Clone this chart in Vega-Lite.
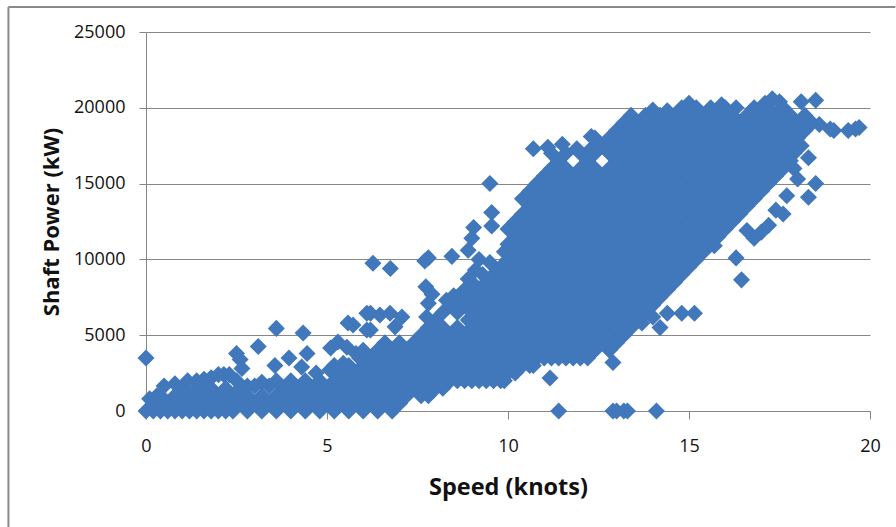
{"$schema":"https://vega.github.io/schema/vega-lite/v6.json","width":724,"height":379,"autosize":{"type":"none"},"padding":{"left":146,"top":32,"right":26,"bottom":116},"background":"white","config":{"view":{"stroke":null}},
"layer":[
{"data":{"values":[{"s":-3.8,"s2":-3.8,"p":-7650,"p2":26650},{"s":-3.8,"s2":20.7,"p":26650,"p2":26650}]},"mark":{"type":"rule","color":"#8a8a8a","strokeWidth":2},"encoding":{"x":{"field":"s","type":"quantitative","scale":{"domain":[0,20],"nice":false,"zero":false}},"x2":{"field":"s2"},"y":{"field":"p","type":"quantitative","scale":{"domain":[0,25000],"nice":false,"zero":false}},"y2":{"field":"p2"}}},
{"data":{"values":[
{"s":0,"p":3500},{"s":11.4,"p":0},{"s":12.9,"p":0},{"s":13,"p":0},{"s":13.2,"p":0},{"s":13.3,"p":0},{"s":14.1,"p":0},
{"s":3.6,"p":5450},{"s":4.34,"p":5150},{"s":3.95,"p":3500},{"s":4.45,"p":3800},{"s":3.56,"p":3000},{"s":4.3,"p":2900},{"s":5.1,"p":4150},{"s":5.3,"p":4550},{"s":5.55,"p":4200},{"s":5.58,"p":5800},{"s":5.72,"p":5670},{"s":6.1,"p":6450},{"s":6.1,"p":5350},{"s":5.08,"p":2700},{"s":5.45,"p":3150},{"s":5.8,"p":3800},{"s":3.1,"p":4250},{"s":2.5,"p":3800},{"s":2.6,"p":3400},{"s":2.65,"p":2800},{"s":6.2,"p":6450},{"s":6.46,"p":6330},{"s":6.74,"p":6450},{"s":7.07,"p":6200},{"s":6.88,"p":5550},{"s":6.2,"p":5350},{"s":6.27,"p":9750},{"s":6.75,"p":9400},{"s":7.7,"p":9900},{"s":7.8,"p":10100},{"s":8.45,"p":10200},{"s":8.9,"p":10600},{"s":9.2,"p":10000},{"s":9,"p":11400},{"s":9.05,"p":12100},{"s":9.55,"p":13100},{"s":9.55,"p":12200},{"s":9.5,"p":15000},{"s":9.5,"p":9800},{"s":7.73,"p":8200},{"s":7.8,"p":7100},{"s":7.75,"p":6200},{"s":7.9,"p":7700},{"s":8.3,"p":7300},{"s":8.5,"p":7600},{"s":8.9,"p":8700},{"s":9.1,"p":9300},{"s":11.16,"p":2180},{"s":12.9,"p":3200},
{"s":10.7,"p":17300},{"s":11.1,"p":17400},{"s":11.5,"p":17600},{"s":11.9,"p":17300},{"s":12.3,"p":17300},{"s":12.3,"p":18100},{"s":12.65,"p":17400},
{"s":14.4,"p":6450},{"s":14.8,"p":6450},{"s":15.15,"p":6450},{"s":14.2,"p":5500},{"s":13.7,"p":5800},{"s":14,"p":6200},
{"s":15.7,"p":10900},{"s":16.3,"p":10100},{"s":16.45,"p":8650},{"s":16.6,"p":11900},{"s":16.8,"p":11400},{"s":17,"p":11800},{"s":17.2,"p":12250},{"s":17.4,"p":13250},{"s":17.6,"p":13000},{"s":17.7,"p":14200},{"s":18.3,"p":14100},{"s":18.5,"p":15000},{"s":18,"p":15300},{"s":17.9,"p":16000},{"s":18.3,"p":16700},{"s":18.6,"p":18900},{"s":19,"p":18500},{"s":19.4,"p":18500},{"s":19.7,"p":18700},{"s":19.6,"p":18600},{"s":18.9,"p":18600},{"s":18.5,"p":20500},{"s":18.1,"p":20400},{"s":17.3,"p":20600},{"s":15,"p":20300},{"s":15.9,"p":20200},{"s":14,"p":19850},{"s":17.1,"p":20300},{"s":17.5,"p":20400},{"s":16.3,"p":20000},
{"s":0.8,"p":1800},{"s":1.4,"p":2000},{"s":1.8,"p":2200},{"s":2.15,"p":2400},{"s":2.5,"p":2000},{"s":2.8,"p":1650},{"s":3.2,"p":1900},{"s":4,"p":2000},{"s":8.6,"p":2000},{"s":9,"p":2000},{"s":9.4,"p":2000},{"s":9.8,"p":2000},{"s":10,"p":2500},{"s":10.6,"p":3000},{"s":10.8,"p":3500},{"s":11.2,"p":3500},{"s":11.6,"p":3500},{"s":12,"p":3500},{"s":7.8,"p":1000},{"s":8,"p":1500},
{"s":0,"p":0},{"s":0.2,"p":0},{"s":0.4,"p":0},{"s":0.6,"p":0},{"s":0.8,"p":0},{"s":1,"p":0},{"s":1.2,"p":0},{"s":1.4,"p":0},{"s":1.6,"p":0},{"s":1.8,"p":0},{"s":2,"p":0},{"s":2.2,"p":0},{"s":2.4,"p":0},{"s":2.8,"p":0},{"s":3.2,"p":0},{"s":3.6,"p":0},{"s":4,"p":0},{"s":4.4,"p":0},{"s":4.8,"p":0},{"s":5.2,"p":0},{"s":5.6,"p":0},{"s":6,"p":0},{"s":6.4,"p":0},{"s":6.8,"p":0},{"s":0.1,"p":800},{"s":0.3,"p":1000},
{"s":0.2,"p":500},{"s":0.6,"p":500},{"s":1,"p":500},{"s":1.4,"p":500},{"s":1.8,"p":500},{"s":2.2,"p":500},{"s":2.6,"p":500},{"s":3,"p":500},{"s":3.4,"p":500},{"s":3.8,"p":500},{"s":4.2,"p":500},{"s":4.6,"p":500},{"s":5,"p":500},{"s":5.4,"p":500},{"s":5.8,"p":500},{"s":6.2,"p":500},{"s":6.6,"p":500},{"s":7,"p":500},
{"s":0.4,"p":1000},{"s":0.8,"p":1000},{"s":1.2,"p":1000},{"s":1.6,"p":1000},{"s":2,"p":1000},{"s":2.4,"p":1000},{"s":2.8,"p":1000},{"s":3.2,"p":1000},{"s":3.6,"p":1000},{"s":4,"p":1000},{"s":4.4,"p":1000},{"s":4.8,"p":1000},{"s":5.2,"p":1000},{"s":5.6,"p":1000},{"s":6,"p":1000},{"s":6.4,"p":1000},{"s":6.8,"p":1000},{"s":7.2,"p":1000},{"s":7.6,"p":1000},
{"s":0.5,"p":1650},{"s":1,"p":1500},{"s":1.4,"p":1500},{"s":1.8,"p":1500},{"s":2.2,"p":1500},{"s":2.6,"p":1500},{"s":3,"p":1650},{"s":3.4,"p":1650},{"s":3.8,"p":1500},{"s":4.2,"p":1500},{"s":4.6,"p":1500},{"s":5,"p":1500},{"s":5.4,"p":1500},{"s":5.8,"p":1500},{"s":6.2,"p":1500},{"s":6.6,"p":1500},{"s":7,"p":1500},{"s":7.4,"p":1500},{"s":7.8,"p":1500},{"s":8.2,"p":1500},
{"s":1.15,"p":2000},{"s":1.6,"p":2100},{"s":2,"p":2400},{"s":2.3,"p":2400},{"s":3.6,"p":2000},{"s":4.4,"p":2000},{"s":4.8,"p":2000},{"s":5.2,"p":2000},{"s":5.6,"p":2000},{"s":6,"p":2000},{"s":6.4,"p":2000},{"s":6.8,"p":2000},{"s":7.2,"p":2000},{"s":7.6,"p":2000},{"s":8,"p":2000},{"s":8.4,"p":2000},{"s":8.8,"p":2000},{"s":9.2,"p":2000},{"s":9.6,"p":2000},{"s":9.9,"p":2000},
{"s":4.7,"p":2500},{"s":5.4,"p":2500},{"s":5.8,"p":2500},{"s":6.2,"p":2500},{"s":6.6,"p":2500},{"s":7,"p":2500},{"s":7.4,"p":2500},{"s":7.8,"p":2500},{"s":8.2,"p":2500},{"s":8.6,"p":2500},{"s":9,"p":2500},{"s":9.4,"p":2500},{"s":9.8,"p":2500},{"s":10.2,"p":2500},
{"s":5.2,"p":3000},{"s":5.6,"p":3000},{"s":6,"p":3000},{"s":6.4,"p":3000},{"s":6.8,"p":3000},{"s":7.2,"p":3000},{"s":7.6,"p":3000},{"s":8,"p":3000},{"s":8.4,"p":3000},{"s":8.8,"p":3000},{"s":9.2,"p":3000},{"s":9.6,"p":3000},{"s":10,"p":3000},{"s":10.4,"p":3000},{"s":10.7,"p":3000},
{"s":5.9,"p":3500},{"s":6.2,"p":3500},{"s":6.6,"p":3500},{"s":7,"p":3500},{"s":7.4,"p":3500},{"s":7.8,"p":3500},{"s":8.2,"p":3500},{"s":8.6,"p":3500},{"s":9,"p":3500},{"s":9.4,"p":3500},{"s":9.8,"p":3500},{"s":10.2,"p":3500},{"s":10.6,"p":3500},{"s":11,"p":3500},{"s":11.4,"p":3500},{"s":11.8,"p":3500},{"s":12.2,"p":3500},
{"s":6,"p":4000},{"s":6.4,"p":4000},{"s":6.8,"p":4000},{"s":7.2,"p":4000},{"s":7.6,"p":4000},{"s":8,"p":4000},{"s":8.4,"p":4000},{"s":8.8,"p":4000},{"s":9.2,"p":4000},{"s":9.6,"p":4000},{"s":10,"p":4000},{"s":10.4,"p":4000},{"s":10.8,"p":4000},{"s":11.2,"p":4000},{"s":11.6,"p":4000},{"s":12,"p":4000},{"s":12.4,"p":4000},{"s":12.8,"p":4000},
{"s":6.6,"p":4500},{"s":7,"p":4500},{"s":7.4,"p":4500},{"s":7.8,"p":4500},{"s":8.2,"p":4500},{"s":8.6,"p":4500},{"s":9,"p":4500},{"s":9.4,"p":4500},{"s":9.8,"p":4500},{"s":10.2,"p":4500},{"s":10.6,"p":4500},{"s":11,"p":4500},{"s":11.4,"p":4500},{"s":11.8,"p":4500},{"s":12.2,"p":4500},{"s":12.6,"p":4500},{"s":13,"p":4500},
{"s":7.6,"p":5000},{"s":8,"p":5000},{"s":8.4,"p":5000},{"s":8.8,"p":5000},{"s":9.2,"p":5000},{"s":9.6,"p":5000},{"s":10,"p":5000},{"s":10.4,"p":5000},{"s":10.8,"p":5000},{"s":11.2,"p":5000},{"s":11.6,"p":5000},{"s":12,"p":5000},{"s":12.4,"p":5000},{"s":12.8,"p":5000},{"s":13.2,"p":5000},
{"s":7.8,"p":5500},{"s":8.2,"p":5500},{"s":8.6,"p":5500},{"s":9,"p":5500},{"s":9.4,"p":5500},{"s":9.8,"p":5500},{"s":10.2,"p":5500},{"s":10.6,"p":5500},{"s":11,"p":5500},{"s":11.4,"p":5500},{"s":11.8,"p":5500},{"s":12.2,"p":5500},{"s":12.6,"p":5500},{"s":13,"p":5500},{"s":13.4,"p":5500},
{"s":8,"p":6000},{"s":8.9,"p":6000},{"s":9.2,"p":6000},{"s":9.6,"p":6000},{"s":10,"p":6000},{"s":10.4,"p":6000},{"s":10.8,"p":6000},{"s":11.2,"p":6000},{"s":11.6,"p":6000},{"s":12,"p":6000},{"s":12.4,"p":6000},{"s":12.8,"p":6000},{"s":13.2,"p":6000},{"s":13.6,"p":6000},
{"s":8.2,"p":6500},{"s":8.6,"p":6500},{"s":9,"p":6500},{"s":9.4,"p":6500},{"s":9.8,"p":6500},{"s":10.2,"p":6500},{"s":10.6,"p":6500},{"s":11,"p":6500},{"s":11.4,"p":6500},{"s":11.8,"p":6500},{"s":12.2,"p":6500},{"s":12.6,"p":6500},{"s":13,"p":6500},{"s":13.4,"p":6500},{"s":13.8,"p":6500},
{"s":8.4,"p":7000},{"s":8.8,"p":7000},{"s":9.2,"p":7000},{"s":9.6,"p":7000},{"s":10,"p":7000},{"s":10.4,"p":7000},{"s":10.8,"p":7000},{"s":11.2,"p":7000},{"s":11.6,"p":7000},{"s":12,"p":7000},{"s":12.4,"p":7000},{"s":12.8,"p":7000},{"s":13.2,"p":7000},{"s":13.6,"p":7000},{"s":14,"p":7000},
{"s":8.6,"p":7500},{"s":9,"p":7500},{"s":9.4,"p":7500},{"s":9.8,"p":7500},{"s":10.2,"p":7500},{"s":10.6,"p":7500},{"s":11,"p":7500},{"s":11.4,"p":7500},{"s":11.8,"p":7500},{"s":12.2,"p":7500},{"s":12.6,"p":7500},{"s":13,"p":7500},{"s":13.4,"p":7500},{"s":13.8,"p":7500},{"s":14.2,"p":7500},
{"s":8.8,"p":8000},{"s":9.2,"p":8000},{"s":9.6,"p":8000},{"s":10,"p":8000},{"s":10.4,"p":8000},{"s":10.8,"p":8000},{"s":11.2,"p":8000},{"s":11.6,"p":8000},{"s":12,"p":8000},{"s":12.4,"p":8000},{"s":12.8,"p":8000},{"s":13.2,"p":8000},{"s":13.6,"p":8000},{"s":14,"p":8000},{"s":14.4,"p":8000},
{"s":9,"p":8500},{"s":9.4,"p":8500},{"s":9.8,"p":8500},{"s":10.2,"p":8500},{"s":10.6,"p":8500},{"s":11,"p":8500},{"s":11.4,"p":8500},{"s":11.8,"p":8500},{"s":12.2,"p":8500},{"s":12.6,"p":8500},{"s":13,"p":8500},{"s":13.4,"p":8500},{"s":13.8,"p":8500},{"s":14.2,"p":8500},{"s":14.6,"p":8500},
{"s":9.3,"p":9000},{"s":9.6,"p":9000},{"s":10,"p":9000},{"s":10.4,"p":9000},{"s":10.8,"p":9000},{"s":11.2,"p":9000},{"s":11.6,"p":9000},{"s":12,"p":9000},{"s":12.4,"p":9000},{"s":12.8,"p":9000},{"s":13.2,"p":9000},{"s":13.6,"p":9000},{"s":14,"p":9000},{"s":14.4,"p":9000},{"s":14.8,"p":9000},
{"s":9.8,"p":9500},{"s":10.2,"p":9500},{"s":10.6,"p":9500},{"s":11,"p":9500},{"s":11.4,"p":9500},{"s":11.8,"p":9500},{"s":12.2,"p":9500},{"s":12.6,"p":9500},{"s":13,"p":9500},{"s":13.4,"p":9500},{"s":13.8,"p":9500},{"s":14.2,"p":9500},{"s":14.6,"p":9500},{"s":15,"p":9500},
{"s":10,"p":10000},{"s":10.4,"p":10000},{"s":10.8,"p":10000},{"s":11.2,"p":10000},{"s":11.6,"p":10000},{"s":12,"p":10000},{"s":12.4,"p":10000},{"s":12.8,"p":10000},{"s":13.2,"p":10000},{"s":13.6,"p":10000},{"s":14,"p":10000},{"s":14.4,"p":10000},{"s":14.8,"p":10000},{"s":15.2,"p":10000},
{"s":9.9,"p":10500},{"s":10.2,"p":10500},{"s":10.6,"p":10500},{"s":11,"p":10500},{"s":11.4,"p":10500},{"s":11.8,"p":10500},{"s":12.2,"p":10500},{"s":12.6,"p":10500},{"s":13,"p":10500},{"s":13.4,"p":10500},{"s":13.8,"p":10500},{"s":14.2,"p":10500},{"s":14.6,"p":10500},{"s":15,"p":10500},{"s":15.4,"p":10500},
{"s":10,"p":11000},{"s":10.4,"p":11000},{"s":10.8,"p":11000},{"s":11.2,"p":11000},{"s":11.6,"p":11000},{"s":12,"p":11000},{"s":12.4,"p":11000},{"s":12.8,"p":11000},{"s":13.2,"p":11000},{"s":13.6,"p":11000},{"s":14,"p":11000},{"s":14.4,"p":11000},{"s":14.8,"p":11000},{"s":15.2,"p":11000},{"s":15.6,"p":11000},
{"s":10.2,"p":11500},{"s":10.6,"p":11500},{"s":11,"p":11500},{"s":11.4,"p":11500},{"s":11.8,"p":11500},{"s":12.2,"p":11500},{"s":12.6,"p":11500},{"s":13,"p":11500},{"s":13.4,"p":11500},{"s":13.8,"p":11500},{"s":14.2,"p":11500},{"s":14.6,"p":11500},{"s":15,"p":11500},{"s":15.4,"p":11500},{"s":15.8,"p":11500},
{"s":10,"p":12000},{"s":10.4,"p":12000},{"s":10.8,"p":12000},{"s":11.2,"p":12000},{"s":11.6,"p":12000},{"s":12,"p":12000},{"s":12.4,"p":12000},{"s":12.8,"p":12000},{"s":13.2,"p":12000},{"s":13.6,"p":12000},{"s":14,"p":12000},{"s":14.4,"p":12000},{"s":14.8,"p":12000},{"s":15.2,"p":12000},{"s":15.6,"p":12000},{"s":16,"p":12000},
{"s":10.2,"p":12500},{"s":10.6,"p":12500},{"s":11,"p":12500},{"s":11.4,"p":12500},{"s":11.8,"p":12500},{"s":12.2,"p":12500},{"s":12.6,"p":12500},{"s":13,"p":12500},{"s":13.4,"p":12500},{"s":13.8,"p":12500},{"s":14.2,"p":12500},{"s":14.6,"p":12500},{"s":15,"p":12500},{"s":15.4,"p":12500},{"s":15.8,"p":12500},{"s":16.2,"p":12500},
{"s":10.4,"p":13000},{"s":10.8,"p":13000},{"s":11.2,"p":13000},{"s":11.6,"p":13000},{"s":12,"p":13000},{"s":12.4,"p":13000},{"s":12.8,"p":13000},{"s":13.2,"p":13000},{"s":13.6,"p":13000},{"s":14,"p":13000},{"s":14.4,"p":13000},{"s":14.8,"p":13000},{"s":15.2,"p":13000},{"s":15.6,"p":13000},{"s":16,"p":13000},{"s":16.4,"p":13000},
{"s":10.6,"p":13500},{"s":11,"p":13500},{"s":11.4,"p":13500},{"s":11.8,"p":13500},{"s":12.2,"p":13500},{"s":12.6,"p":13500},{"s":13,"p":13500},{"s":13.4,"p":13500},{"s":13.8,"p":13500},{"s":14.2,"p":13500},{"s":14.6,"p":13500},{"s":15,"p":13500},{"s":15.4,"p":13500},{"s":15.8,"p":13500},{"s":16.2,"p":13500},{"s":16.6,"p":13500},
{"s":10.4,"p":14000},{"s":10.8,"p":14000},{"s":11.2,"p":14000},{"s":11.6,"p":14000},{"s":12,"p":14000},{"s":12.4,"p":14000},{"s":12.8,"p":14000},{"s":13.2,"p":14000},{"s":13.6,"p":14000},{"s":14,"p":14000},{"s":14.4,"p":14000},{"s":14.8,"p":14000},{"s":15.2,"p":14000},{"s":15.6,"p":14000},{"s":16,"p":14000},{"s":16.4,"p":14000},{"s":16.8,"p":14000},
{"s":10.6,"p":14500},{"s":11,"p":14500},{"s":11.4,"p":14500},{"s":11.8,"p":14500},{"s":12.2,"p":14500},{"s":12.6,"p":14500},{"s":13,"p":14500},{"s":13.4,"p":14500},{"s":13.8,"p":14500},{"s":14.2,"p":14500},{"s":14.6,"p":14500},{"s":15,"p":14500},{"s":15.4,"p":14500},{"s":15.8,"p":14500},{"s":16.2,"p":14500},{"s":16.6,"p":14500},{"s":17,"p":14500},
{"s":10.8,"p":15000},{"s":11.2,"p":15000},{"s":11.6,"p":15000},{"s":12,"p":15000},{"s":12.4,"p":15000},{"s":12.8,"p":15000},{"s":13.2,"p":15000},{"s":13.6,"p":15000},{"s":14,"p":15000},{"s":14.4,"p":15000},{"s":14.8,"p":15000},{"s":15.2,"p":15000},{"s":15.6,"p":15000},{"s":16,"p":15000},{"s":16.4,"p":15000},{"s":16.8,"p":15000},{"s":17.2,"p":15000},
{"s":11,"p":15500},{"s":11.4,"p":15500},{"s":11.8,"p":15500},{"s":12.2,"p":15500},{"s":12.6,"p":15500},{"s":13,"p":15500},{"s":13.4,"p":15500},{"s":13.8,"p":15500},{"s":14.2,"p":15500},{"s":14.6,"p":15500},{"s":15,"p":15500},{"s":15.4,"p":15500},{"s":15.8,"p":15500},{"s":16.2,"p":15500},{"s":16.6,"p":15500},{"s":17,"p":15500},{"s":17.4,"p":15500},
{"s":11.2,"p":16000},{"s":11.6,"p":16000},{"s":12,"p":16000},{"s":12.4,"p":16000},{"s":12.8,"p":16000},{"s":13.2,"p":16000},{"s":13.6,"p":16000},{"s":14,"p":16000},{"s":14.4,"p":16000},{"s":14.8,"p":16000},{"s":15.2,"p":16000},{"s":15.6,"p":16000},{"s":16,"p":16000},{"s":16.4,"p":16000},{"s":16.8,"p":16000},{"s":17.2,"p":16000},{"s":17.6,"p":16000},
{"s":11.4,"p":16500},{"s":12.2,"p":16500},{"s":13,"p":16500},{"s":13.4,"p":16500},{"s":13.8,"p":16500},{"s":14.2,"p":16500},{"s":14.6,"p":16500},{"s":15,"p":16500},{"s":15.4,"p":16500},{"s":15.8,"p":16500},{"s":16.2,"p":16500},{"s":16.6,"p":16500},{"s":17,"p":16500},{"s":17.4,"p":16500},{"s":17.8,"p":16500},
{"s":11.2,"p":17000},{"s":11.6,"p":17000},{"s":12,"p":17000},{"s":12.4,"p":17000},{"s":12.8,"p":17000},{"s":13.2,"p":17000},{"s":13.6,"p":17000},{"s":14,"p":17000},{"s":14.4,"p":17000},{"s":14.8,"p":17000},{"s":15.2,"p":17000},{"s":15.6,"p":17000},{"s":16,"p":17000},{"s":16.4,"p":17000},{"s":16.8,"p":17000},{"s":17.2,"p":17000},{"s":17.6,"p":17000},{"s":17.9,"p":17000},
{"s":12.6,"p":17500},{"s":13,"p":17500},{"s":13.4,"p":17500},{"s":13.8,"p":17500},{"s":14.2,"p":17500},{"s":14.6,"p":17500},{"s":15,"p":17500},{"s":15.4,"p":17500},{"s":15.8,"p":17500},{"s":16.2,"p":17500},{"s":16.6,"p":17500},{"s":17,"p":17500},{"s":17.4,"p":17500},{"s":17.8,"p":17500},{"s":18.1,"p":17500},
{"s":12.4,"p":18000},{"s":12.8,"p":18000},{"s":13.2,"p":18000},{"s":13.6,"p":18000},{"s":14,"p":18000},{"s":14.4,"p":18000},{"s":14.8,"p":18000},{"s":15.2,"p":18000},{"s":15.6,"p":18000},{"s":16,"p":18000},{"s":16.4,"p":18000},{"s":16.8,"p":18000},{"s":17.2,"p":18000},{"s":17.6,"p":18000},{"s":18,"p":18000},
{"s":13,"p":18500},{"s":13.4,"p":18500},{"s":13.8,"p":18500},{"s":14.2,"p":18500},{"s":14.6,"p":18500},{"s":15,"p":18500},{"s":15.4,"p":18500},{"s":15.8,"p":18500},{"s":16.2,"p":18500},{"s":16.6,"p":18500},{"s":17,"p":18500},{"s":17.4,"p":18500},{"s":17.8,"p":18500},{"s":18.2,"p":18500},
{"s":13.2,"p":19000},{"s":13.6,"p":19000},{"s":14,"p":19000},{"s":14.4,"p":19000},{"s":14.8,"p":19000},{"s":15.2,"p":19000},{"s":15.6,"p":19000},{"s":16,"p":19000},{"s":16.4,"p":19000},{"s":16.8,"p":19000},{"s":17.2,"p":19000},{"s":17.6,"p":19000},{"s":18,"p":19000},{"s":18.4,"p":19000},
{"s":13.4,"p":19500},{"s":13.8,"p":19500},{"s":14.2,"p":19500},{"s":14.6,"p":19500},{"s":15,"p":19500},{"s":15.4,"p":19500},{"s":15.8,"p":19500},{"s":16.2,"p":19500},{"s":16.6,"p":19500},{"s":17,"p":19500},{"s":17.4,"p":19500},{"s":17.8,"p":19500},{"s":18.2,"p":19500},
{"s":14.4,"p":19800},{"s":14.8,"p":20000},{"s":15.2,"p":20000},{"s":15.6,"p":20000},{"s":16,"p":20000},{"s":16.8,"p":20000},{"s":17.2,"p":20000},{"s":17.6,"p":20000}
]},"mark":{"type":"point","shape":"diamond","filled":true,"size":290,"opacity":1,"color":"#4177BB"},"encoding":{
"x":{"field":"s","type":"quantitative","scale":{"domain":[0,20],"nice":false,"zero":false},"axis":{"title":"Speed (knots)","values":[0,5,10,15,20],"labelFlush":false,"labelOverlap":false,"grid":false,"domainColor":"#868686","tickColor":"#868686","tickSize":8,"labelFont":"Open Sans","labelFontSize":18,"labelColor":"#111111","labelPadding":18,"titleFont":"Open Sans","titleFontSize":23.5,"titleFontWeight":"bold","titleColor":"#111111","titlePadding":20}},
"y":{"field":"p","type":"quantitative","scale":{"domain":[0,25000],"nice":false,"zero":false},"axis":{"title":"Shaft Power (kW)","values":[0,5000,10000,15000,20000,25000],"format":"d","labelFlush":false,"labelOverlap":false,"grid":true,"gridColor":"#868686","domainColor":"#868686","tickColor":"#868686","tickSize":7,"labelFont":"Open Sans","labelFontSize":18,"labelColor":"#111111","labelPadding":14,"titleFont":"Open Sans","titleFontSize":22,"titleFontWeight":"bold","titleColor":"#111111","titlePadding":10}}}}
]}
